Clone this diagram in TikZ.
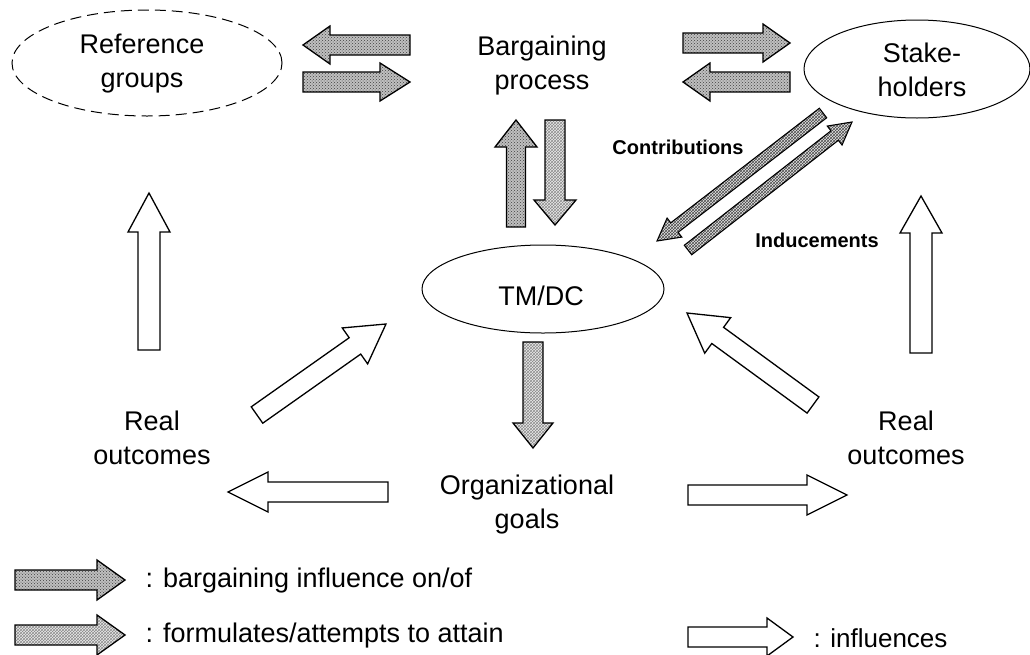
\documentclass[tikz,border=0pt]{standalone}
\usepackage{fontspec}
\setmainfont{Liberation Sans}
\usetikzlibrary{calc,patterns,shapes.geometric}
\newcommand\blockarrow[6]{%
  \coordinate (hb) at ($(#3)!#6!(#2)$);
  \draw[#1] ($(#2)!#4!90:(#3)$) -- ($(hb)!#4!-90:(#2)$) -- ($(hb)!#5!-90:(#2)$)
    -- (#3) -- ($(hb)!#5!90:(#2)$) -- ($(hb)!#4!90:(#2)$) -- ($(#2)!#4!-90:(#3)$) -- cycle;
}
\tikzset{
  lbl/.style={align=center, font=\fontsize{27}{34}\selectfont},
  small/.style={font=\bfseries\fontsize{20}{24}\selectfont},
  leg/.style={anchor=west, font=\fontsize{27}{32}\selectfont},
  barg/.style={draw=black, line width=1.3pt, preaction={fill=gray!50}, pattern=crosshatch dots, pattern color=black!75},
  form/.style={draw=black, line width=1.3pt, preaction={fill=gray!15}, pattern=crosshatch, pattern color=black!45},
  xh/.style={draw=black, line width=1.1pt, preaction={fill=gray!20}, pattern=crosshatch, pattern color=black!70},
  infl/.style={draw=black, line width=1.3pt, fill=white},
  oval/.style={draw=black, line width=1pt, ellipse}
}
\begin{document}
\begin{tikzpicture}[x=1pt,y=-1pt]
\useasboundingbox (0,0) rectangle (1030,654);
% ellipses and labels
\node[oval, dashed, dash pattern=on 11pt off 6pt, minimum width=270pt, minimum height=106pt] (ref) at (147,63) {};
\node[lbl] (reft) at (142,64) {Reference\\groups};
\node[lbl] (barg) at (542,66) {Bargaining\\process};
\node[oval, minimum width=226pt, minimum height=98pt] (stake) at (917,69) {};
\node[lbl] (staket) at (922,70) {Stake-\\holders};
\node[oval, minimum width=242pt, minimum height=88pt] (tm) at (543,289) {};
\node[lbl] (tmt) at (541,296) {TM/DC};
\node[lbl] (realL) at (152,438) {Real\\outcomes};
\node[lbl] (realR) at (906,438) {Real\\outcomes};
\node[lbl] (goals) at (527,505) {Organizational\\goals};
\node[small] (contr) at (678,147) {Contributions};
\node[small] (induc) at (817,240) {Inducements};
% arrow end points
\coordinate (a1t) at (410,45);  \coordinate (a1h) at (303,45);
\coordinate (a2t) at (303,82);  \coordinate (a2h) at (410,82);
\coordinate (a3t) at (683,43);  \coordinate (a3h) at (790,43);
\coordinate (a4t) at (790,82);  \coordinate (a4h) at (683,82);
\coordinate (a5t) at (516,227); \coordinate (a5h) at (516,120);
\coordinate (a6t) at (555,120); \coordinate (a6h) at (555,225);
\coordinate (a7t) at (533,342); \coordinate (a7h) at (533,448);
\coordinate (a8t) at (823,113); \coordinate (a8h) at (657,241);
\coordinate (a9t) at (688,250); \coordinate (a9h) at (852,122);
\coordinate (w1t) at (149,350); \coordinate (w1h) at (149,193);
\coordinate (w2t) at (921,353); \coordinate (w2h) at (921,196);
\coordinate (w3t) at (257,415); \coordinate (w3h) at (386,324);
\coordinate (w4t) at (813,405); \coordinate (w4h) at (687,313);
\coordinate (w5t) at (388,492); \coordinate (w5h) at (228,492);
\coordinate (w6t) at (688,495); \coordinate (w6h) at (847,495);
\coordinate (l1t) at (15,580);  \coordinate (l1h) at (125,580);
\coordinate (l2t) at (15,635);  \coordinate (l2h) at (125,635);
\coordinate (l3t) at (688,637); \coordinate (l3h) at (793,637);
% arrows
\blockarrow{barg}{a1t}{a1h}{10pt}{19pt}{27pt}
\blockarrow{barg}{a2t}{a2h}{10pt}{19pt}{30pt}
\blockarrow{barg}{a3t}{a3h}{10pt}{19pt}{27pt}
\blockarrow{barg}{a4t}{a4h}{10pt}{19pt}{27pt}
\blockarrow{barg}{a5t}{a5h}{9.5pt}{21pt}{27pt}
\blockarrow{form}{a6t}{a6h}{10pt}{21pt}{25pt}
\blockarrow{form}{a7t}{a7h}{10pt}{20pt}{25pt}
\blockarrow{xh}{a8t}{a8h}{6pt}{12pt}{22pt}
\blockarrow{xh}{a9t}{a9h}{6pt}{12pt}{22pt}
\blockarrow{infl}{w1t}{w1h}{11pt}{21pt}{39pt}
\blockarrow{infl}{w2t}{w2h}{11pt}{21pt}{37pt}
\blockarrow{infl}{w3t}{w3h}{10pt}{22pt}{38pt}
\blockarrow{infl}{w4t}{w4h}{10pt}{22pt}{38pt}
\blockarrow{infl}{w5t}{w5h}{10pt}{20pt}{40pt}
\blockarrow{infl}{w6t}{w6h}{10pt}{20pt}{40pt}
\blockarrow{barg}{l1t}{l1h}{10pt}{20pt}{28pt}
\blockarrow{form}{l2t}{l2h}{10pt}{20pt}{28pt}
\blockarrow{infl}{l3t}{l3h}{10pt}{19pt}{26pt}
% legend
\node[leg] (leg1) at (142,581) {: bargaining influence on/of};
\node[leg] (leg2) at (142,636) {: formulates/attempts to attain};
\node[leg, font=\fontsize{26}{30}\selectfont] (leg3) at (810,638) {: influences};
\end{tikzpicture}
\end{document}
